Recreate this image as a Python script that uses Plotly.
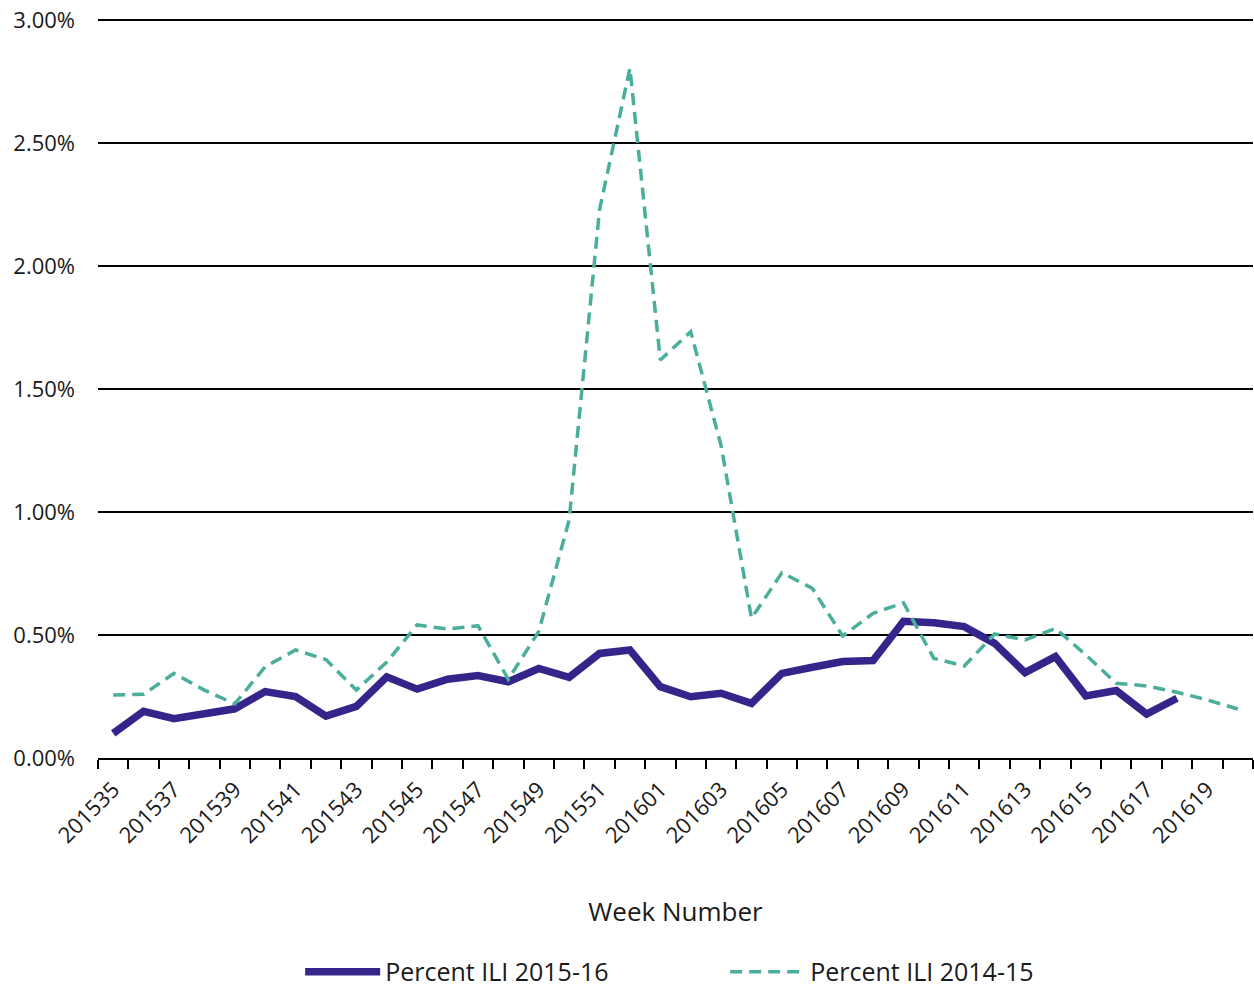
import plotly.graph_objects as go

# Surveillance weeks (2015 week 35 through 2016 week 20)
weeks = [
    "201535", "201536", "201537", "201538", "201539", "201540", "201541", "201542",
    "201543", "201544", "201545", "201546", "201547", "201548", "201549", "201550",
    "201551", "201552", "201601", "201602", "201603", "201604", "201605", "201606",
    "201607", "201608", "201609", "201610", "201611", "201612", "201613", "201614",
    "201615", "201616", "201617", "201618", "201619", "201620",
]

# Percent of visits for influenza-like illness, current season (reported through 201618)
ili_2015_16 = [
    0.10, 0.19, 0.16, 0.18, 0.20, 0.27, 0.25, 0.17,
    0.21, 0.33, 0.28, 0.32, 0.335, 0.31, 0.364, 0.328,
    0.425, 0.439, 0.29, 0.249, 0.263, 0.222, 0.344, 0.369,
    0.392, 0.396, 0.556, 0.55, 0.534, 0.466, 0.347, 0.412,
    0.252, 0.274, 0.179, 0.243,
]

# Previous season, same weeks
ili_2014_15 = [
    0.256, 0.259, 0.344, 0.276, 0.22, 0.371, 0.439, 0.40,
    0.276, 0.39, 0.541, 0.524, 0.538, 0.32, 0.514, 0.967,
    2.228, 2.804, 1.618, 1.733, 1.27, 0.568, 0.753, 0.69,
    0.496, 0.588, 0.631, 0.405, 0.374, 0.504, 0.48, 0.527,
    0.419, 0.304, 0.293, 0.267, 0.236, 0.199,
]

y_ticks = [0.0, 0.5, 1.0, 1.5, 2.0, 2.5, 3.0]

FONT = "'Open Sans', Lato, sans-serif"
PURPLE = "#35248a"
TEAL = "#4aae9b"
TEXT = "#1a1a1a"

pos = list(range(len(weeks)))

fig = go.Figure()
fig.add_trace(go.Scatter(
    x=pos[:len(ili_2015_16)], y=ili_2015_16, mode="lines",
    name="Percent ILI 2015-16",
    line=dict(color=PURPLE, width=7.5),
))
fig.add_trace(go.Scatter(
    x=pos[:len(ili_2014_15)], y=ili_2014_15, mode="lines",
    name="Percent ILI 2014-15",
    line=dict(color=TEAL, width=3.5, dash="12px,7px"),
))

label_idx = pos[::2]
fig.update_xaxes(
    range=[-0.5, len(weeks) - 0.5],
    tickmode="array",
    tickvals=label_idx,
    ticktext=[weeks[i] for i in label_idx],
    tickangle=-45,
    ticks="",
    ticklabelstandoff=8,
    showgrid=False,
    zeroline=False,
    showline=True,
    linecolor="black",
    linewidth=2,
    tickfont=dict(family=FONT, size=22, color=TEXT),
    minor=dict(
        tickmode="array",
        tickvals=[i - 0.5 for i in range(len(weeks) + 1)],
        ticks="outside",
        ticklen=9,
        tickwidth=2,
        tickcolor="black",
        showgrid=False,
    ),
    title=dict(text="Week Number", font=dict(family=FONT, size=26, color=TEXT), standoff=55),
)
fig.update_yaxes(
    range=[0, 3.0203],
    tickmode="array",
    tickvals=y_ticks,
    ticktext=[f"{v:.2f}%" for v in y_ticks],
    showgrid=True,
    gridcolor="black",
    gridwidth=1.6,
    zeroline=False,
    showline=False,
    ticks="",
    ticklabelstandoff=22,
    tickfont=dict(family=FONT, size=22, color=TEXT),
)

fig.update_layout(
    width=1254,
    height=987,
    margin=dict(l=98, r=1, t=15, b=229, autoexpand=False),
    plot_bgcolor="white",
    paper_bgcolor="white",
    showlegend=True,
    legend=dict(
        orientation="h",
        x=0.543, xanchor="center",
        y=-0.288, yanchor="middle",
        font=dict(family=FONT, size=25, color=TEXT),
        itemwidth=75,
        tracegroupgap=0,
        entrywidth=335,
    ),
)

fig.write_html("out.html")
